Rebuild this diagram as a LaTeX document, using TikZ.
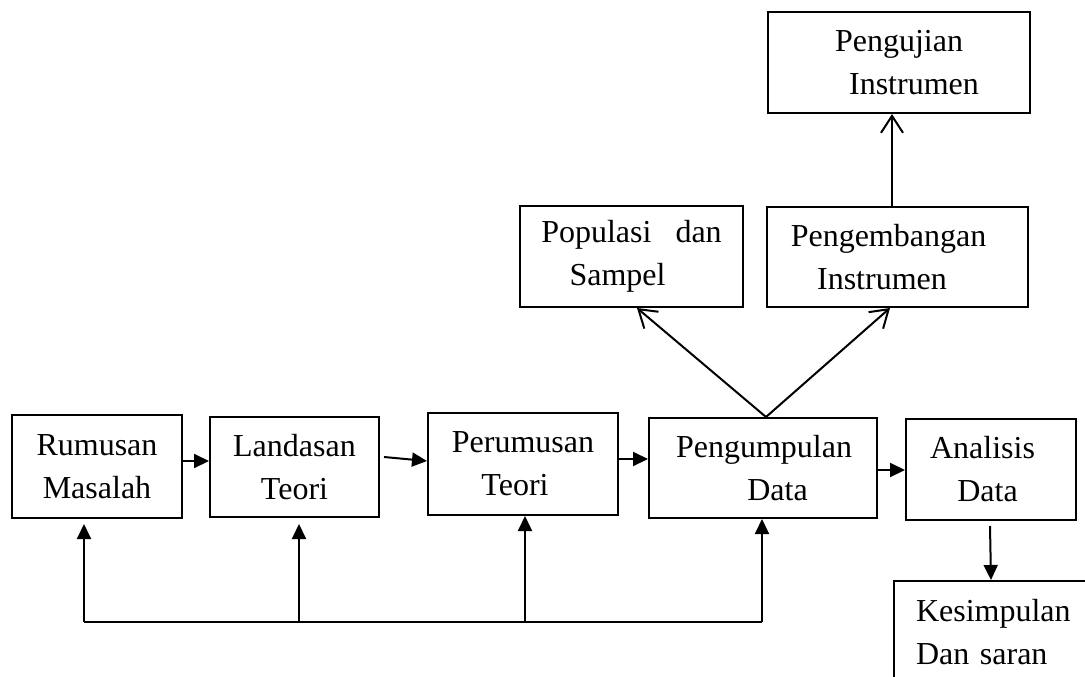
\documentclass[tikz,border=0pt]{standalone}
\usepackage{fontspec}
\setmainfont{Liberation Serif}
\usetikzlibrary{arrows.meta,calc}
\begin{document}
\begin{tikzpicture}[x=1pt,y=-1pt,
  box/.style={draw, line width=2pt, inner sep=0pt, align=center,
    font=\fontsize{32}{43}\selectfont},
  arr/.style={line width=2pt, -{Triangle[length=15pt,width=14pt]}},
  barb/.style={line width=2pt, -{Straight Barb[length=17pt,width=22pt,line width=2pt]}}]
\useasboundingbox (0,0) rectangle (1085,677);
\clip (0,0) rectangle (1085,677);

% boxes
\node[box, minimum width=170pt, minimum height=103pt] (rum) at (97,466.5) {Rumusan\\Masalah};
\node[box, minimum width=169pt, minimum height=100pt] (land) at (294.5,467) {Landasan\\Teori};
\node[box, minimum width=190pt, minimum height=102pt] (perum) at (523,464) {Perumusan\\Teori\kern16pt};
\node[box, minimum width=228pt, minimum height=100pt] (pengum) at (763,468) {\hspace*{2pt}Pengumpulan\\\hspace*{29pt}Data};
\node[box, minimum width=170pt, minimum height=101pt] (anal) at (991,469.5) {Analisis\kern17pt\\Data\kern7pt};
\node[box, minimum width=223pt, minimum height=101pt] (pop) at (631.5,256.5) {Populasi\hspace{24pt}dan\\Sampel\kern28pt};
\node[box, minimum width=261pt, minimum height=100pt] (pengem) at (897.5,257) {Pengembangan\kern18pt\\Instrumen\kern31pt};
\node[box, minimum width=262pt, minimum height=101pt] (penguj) at (899,62.5) {Pengujian\\\hspace*{30pt}Instrumen};
\node[box, anchor=north west, minimum width=220pt, minimum height=102pt, align=left,
  text width=176pt, inner xsep=22pt] (kes) at (893,580) {Kesimpulan\\Dan saran};

% main flow
\draw[arr] ([yshift=5.5pt]rum.east) -- ([yshift=6pt]land.west);
\draw[arr] ([xshift=4pt,yshift=10pt]land.east) -- ([yshift=3pt]perum.west);
\draw[arr] ([yshift=5pt]perum.east) -- ([yshift=9pt]pengum.west);
\draw[arr] ([yshift=-2pt]pengum.east) -- ([yshift=-0.5pt]anal.west);
\draw[arr] ([xshift=-1pt,yshift=-5pt]anal.south) -- ([xshift=-13pt]kes.north);

% upper branches
\draw[barb] ([xshift=3pt]pengum.north) -- ([xshift=5.5pt]pop.south);
\draw[barb] ([xshift=3pt]pengum.north) -- ([xshift=-7.5pt]pengem.south);
\draw[barb] ([xshift=-5.5pt]pengem.north) -- ([xshift=-7pt]penguj.south);

% feedback line
\coordinate (f1) at (84,622);
\coordinate (f2) at (299,622);
\coordinate (f3) at (525,622);
\coordinate (f4) at (762,622);
\draw[line width=2pt] (f1) -- (f4);
\draw[arr, shorten >=5pt] (f1) -- ([xshift=-13pt]rum.south);
\draw[arr, shorten >=6pt] (f2) -- ([xshift=4.5pt]land.south);
\draw[arr] (f3) -- ([xshift=2pt]perum.south);
\draw[arr] (f4) -- ([xshift=-1pt]pengum.south);
\end{tikzpicture}
\end{document}
